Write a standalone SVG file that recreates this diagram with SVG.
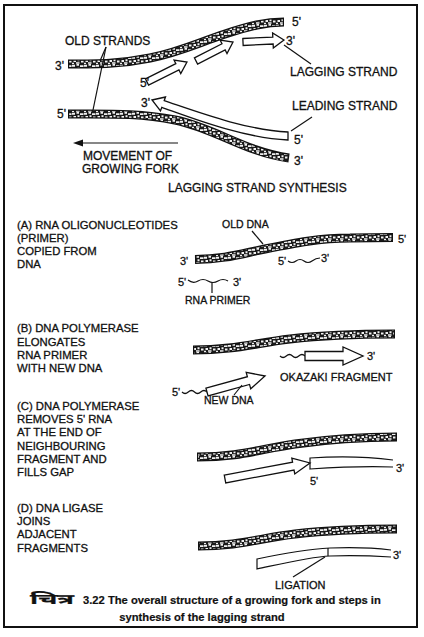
<svg xmlns="http://www.w3.org/2000/svg" width="424" height="637" viewBox="0 0 424 637">
<defs>
<pattern id="spk" width="12" height="8" patternUnits="userSpaceOnUse">
<rect width="12" height="8" fill="#1a1a1a"/>
<path fill="#f2f2f2" d="M0,0.8h3v2h-3z M4.5,0h2.5v1.8h-2.5z M8,1.2h3.5v1.8h-3.5z M1.5,4h2.5v2h-2.5z M5.5,3.2h2v2h-2z M9,4.5h2.5v2h-2.5z M0,6.8h2v1.2h-2z M4,6.3h3.5v1.5h-3.5z"/>
</pattern>
</defs>
<style>
text{font-family:"Liberation Sans",Arial,sans-serif;fill:#111;stroke:#111;stroke-width:0.3}
.t12{font-size:12px}
.t11{font-size:11.3px}
.s{font-size:11px}
.sm{font-size:10.5px}
.cap{font-size:11.2px;font-weight:bold;stroke-width:0.2}
.bo{fill:none;stroke:#111;stroke-width:9}
.bi{fill:none;stroke:url(#spk);stroke-width:6.4}
.ha{fill:#fff;stroke:#111;stroke-width:1.3}
.ln{fill:none;stroke:#111;stroke-width:1.2}
</style>
<rect x="4" y="5" width="413" height="622" fill="#fff" stroke="#111" stroke-width="2"/>

<g id="top-old-upper">
<path class="bo" d="M68,64 C100,64 120,64 150,58 C180,52 200,42 225,34 C250,26 265,22 284,22"/>
<path class="bi" d="M69.2,64 C100,64 120,64 150,58 C180,52 200,42 225,34 C250,26 265,22 282.8,22"/>
<text class="t12" x="55" y="70">3'</text>
<text class="t12" x="292" y="26">5'</text>
</g>
<g id="top-old-lower">
<path class="bo" d="M68,114 C110,114 140,113 175,120 C215,128 245,152 289,158"/>
<path class="bi" d="M69.2,114 C110,114 140,113 175,120 C215,128 245,152 287.8,158"/>
<text class="t12" x="57" y="118">5'</text>
<text class="t12" x="294" y="165">3'</text>
</g>
<g id="lagging-strand">
<path class="ha" transform="translate(147,82) rotate(-26.6)" d="M0,-3.5H34V-7.5L44.7,0L34,7.5V3.5H0Z"/>
<path class="ha" transform="translate(196,61) rotate(-27.2)" d="M0,-3.5H31V-7.5L41.6,0L31,7.5V3.5H0Z"/>
<path class="ha" transform="translate(243,42) rotate(-2.8)" d="M0,-3.5H30V-7.5L41,0L30,7.5V3.5H0Z"/>
<text class="t12" x="140" y="87">5'</text>
<text class="t12" x="286" y="45">3'</text>
</g>
<g id="leading-strand">
<path class="ha" d="M152,100 L165.5,97 L164.2,100.7 C195,111 245,130 288,132 L288,140 C243,138 192,118 161.8,107.3 L160.5,111 Z"/>
<text class="t12" x="141" y="107">3'</text>
<text class="t12" x="294" y="144">5'</text>
</g>
<g id="top-labels">
<text class="t12" x="65" y="45">OLD STRANDS</text>
<text class="t12" x="290" y="76">LAGGING STRAND</text>
<text class="t12" x="292" y="110">LEADING STRAND</text>
<text class="t12" x="83" y="160">MOVEMENT OF</text>
<text class="t12" x="82" y="173">GROWING FORK</text>
<text class="t12" x="168" y="192">LAGGING STRAND SYNTHESIS</text>
</g>

<g id="step-a">
<text class="t11" x="17" y="229">(A) RNA OLIGONUCLEOTIDES</text>
<text class="t11" x="17" y="242">(PRIMER)</text>
<text class="t11" x="17" y="255">COPIED FROM</text>
<text class="t11" x="17" y="268">DNA</text>
<path class="bo" d="M195,259.5 C225,259 240,254 265,249 C295,243 320,238 350,238 C370,237.5 380,237.5 393,237.5"/>
<path class="bi" d="M196.2,259.5 C225,259 240,254 265,249 C295,243 320,238 350,238 C370,237.5 380,237.5 391.8,237.5"/>
<text class="sm" x="222" y="228">OLD DNA</text>
<text class="s" x="180" y="265">3'</text>
<text class="s" x="398" y="243">5'</text>
<path class="ln" d="M288,261 q4,3 8,0 t8,0 t8,0 t8,-3"/>
<text class="s" x="278" y="265">5'</text>
<text class="s" x="321" y="262">3'</text>
<path class="ln" d="M188,280 q5,4 10,1 t10,0 t10,0 t10,0"/>
<path class="ln" d="M212,282 V293"/>
<text class="s" x="178" y="286">5'</text>
<text class="s" x="233" y="286">3'</text>
<text class="sm" x="185" y="304">RNA PRIMER</text>
</g>

<g id="step-b">
<text class="t11" x="17" y="332">(B) DNA POLYMERASE</text>
<text class="t11" x="17" y="345.5">ELONGATES</text>
<text class="t11" x="17" y="359">RNA PRIMER</text>
<text class="t11" x="17" y="372">WITH NEW DNA</text>
<path class="bo" d="M193,350 C235,350 255,343 290,339 C325,335 350,334 395,334"/>
<path class="bi" d="M194.2,350 C235,350 255,343 290,339 C325,335 350,334 393.8,334"/>
<path class="ln" d="M182,392 q3,3 6.25,0 t6.25,0 t6.25,0 t6.25,0"/>
<path class="ha" transform="translate(207,392) rotate(-15.4)" d="M0,-4H43V-8.5L60.2,0L43,8.5V4H0Z"/>
<text class="s" x="172" y="396">5'</text>
<path class="ln" d="M280,356 q3,3 6.25,0 t6.25,0 t6.25,0 t6.25,0"/>
<path class="ha" d="M305,351.5H343V347L363,356L343,365V360.5H305Z"/>
<text class="s" x="367" y="360">3'</text>
<text class="s" x="280" y="381">OKAZAKI FRAGMENT</text>
<text class="sm" x="204" y="404">NEW DNA</text>
</g>

<g id="step-c">
<text class="t11" x="17" y="410">(C) DNA POLYMERASE</text>
<text class="t11" x="17" y="423">REMOVES 5' RNA</text>
<text class="t11" x="17" y="436">AT THE END OF</text>
<text class="t11" x="17" y="450">NEIGHBOURING</text>
<text class="t11" x="17" y="463">FRAGMENT AND</text>
<text class="t11" x="17" y="476">FILLS GAP</text>
<path class="bo" d="M197,457 C240,457 260,449 295,444 C330,439 355,437 397,437"/>
<path class="bi" d="M198.2,457 C240,457 260,449 295,444 C330,439 355,437 395.8,437"/>
<path class="ha" transform="translate(225,479) rotate(-10.7)" d="M0,-4H69.5V-8L86.5,0L69.5,8V4H0Z"/>
<path class="ln" d="M393,460 C370,457 340,456 310,458 V469 C340,467 370,466 393,467"/>
<text class="s" x="396" y="472">3'</text>
<text class="s" x="310" y="485">5'</text>
</g>

<g id="step-d">
<text class="t11" x="17" y="512">(D) DNA LIGASE</text>
<text class="t11" x="17" y="525">JOINS</text>
<text class="t11" x="17" y="538">ADJACENT</text>
<text class="t11" x="17" y="552">FRAGMENTS</text>
<path class="bo" d="M198,546 C240,546 260,538 295,534 C330,530 355,529 397,529"/>
<path class="bi" d="M199.2,546 C240,546 260,538 295,534 C330,530 355,529 395.8,529"/>
<path class="ln" d="M391,550 C375,548 355,547 330,548 C310,549 285,553 257,559 V569 C285,563 310,557 330,556 C355,555 375,556 391,557"/>
<path class="ln" d="M328,548 V556"/>
<text class="s" x="393" y="559">3'</text>
<text class="s" x="275" y="589">LIGATION</text>
</g>

<g id="connectors">
<path class="ln" d="M106,47 L100,61"/>
<path class="ln" d="M106,47 L93,110"/>
<path class="ln" d="M284,45 L311,64"/>
<path class="ln" d="M312,117 L291,131"/>
<path class="ln" d="M178,143 H82"/>
<path d="M73,143 L83,139.5 L83,146.5 Z" fill="#111"/>
<path class="ln" d="M252,231 L263,244"/>
<path class="ln" d="M234,395 L242,385"/>
<path class="ln" d="M293,577 L325,557"/>
</g>

<g id="caption">
<text class="cap" y="604"><tspan x="30" textLength="44" lengthAdjust="spacingAndGlyphs" style="font-size:14px;font-family:'Noto Sans Devanagari','Lohit Devanagari','Liberation Sans',sans-serif">चित्र</tspan><tspan x="83">3.22 The overall structure of a growing fork and steps in</tspan></text>
<text class="cap" x="202" y="621" text-anchor="middle">synthesis of the lagging strand</text>
</g>
</svg>
